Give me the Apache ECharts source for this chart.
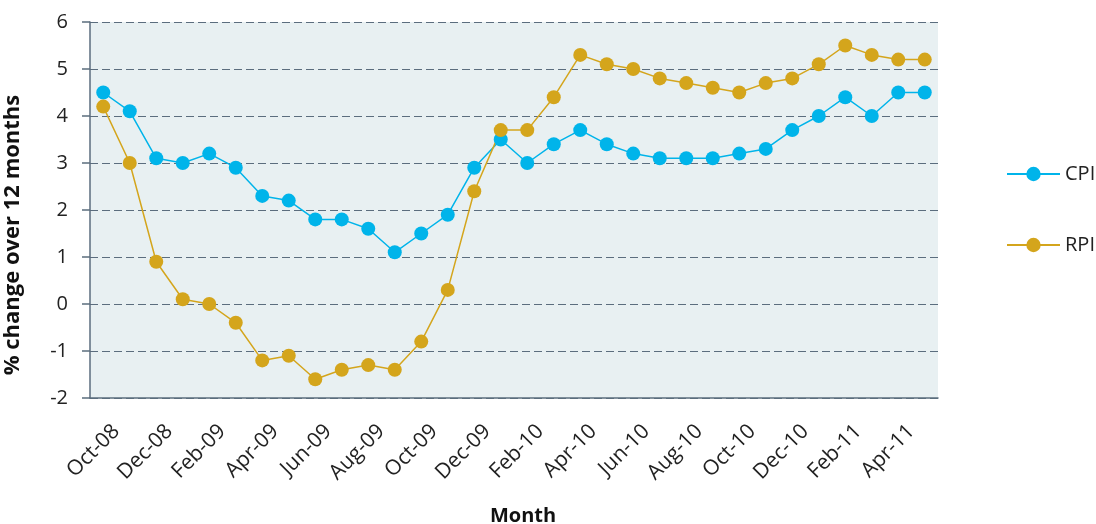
<!DOCTYPE html>
<html>
<head>
<meta charset="utf-8">
<script src="https://cdn.jsdelivr.net/npm/echarts@6/dist/echarts.min.js"></script>
<style>
  html, body { margin: 0; padding: 0; background: #fff; }
  #chart { width: 1096px; height: 524px; }
</style>
</head>
<body>
<div id="chart"></div>
<script>
// Monthly 12-month inflation rates, Oct 2008 to May 2011
const months = [
  'Oct-08', 'Nov-08', 'Dec-08', 'Jan-09', 'Feb-09', 'Mar-09', 'Apr-09', 'May-09',
  'Jun-09', 'Jul-09', 'Aug-09', 'Sep-09', 'Oct-09', 'Nov-09', 'Dec-09', 'Jan-10',
  'Feb-10', 'Mar-10', 'Apr-10', 'May-10', 'Jun-10', 'Jul-10', 'Aug-10', 'Sep-10',
  'Oct-10', 'Nov-10', 'Dec-10', 'Jan-11', 'Feb-11', 'Mar-11', 'Apr-11', 'May-11'
];
const cpi = [
  4.5, 4.1, 3.1, 3.0, 3.2, 2.9, 2.3, 2.2,
  1.8, 1.8, 1.6, 1.1, 1.5, 1.9, 2.9, 3.5,
  3.0, 3.4, 3.7, 3.4, 3.2, 3.1, 3.1, 3.1,
  3.2, 3.3, 3.7, 4.0, 4.4, 4.0, 4.5, 4.5
];
const rpi = [
  4.2, 3.0, 0.9, 0.1, 0.0, -0.4, -1.2, -1.1,
  -1.6, -1.4, -1.3, -1.4, -0.8, 0.3, 2.4, 3.7,
  3.7, 4.4, 5.3, 5.1, 5.0, 4.8, 4.7, 4.6,
  4.5, 4.7, 4.8, 5.1, 5.5, 5.3, 5.2, 5.2
];

const FONT = '"Open Sans", "Noto Sans", sans-serif';
const AXIS_COLOR = '#5b6d7e';
const CPI_COLOR = '#00b4ea';
const RPI_COLOR = '#d4a51c';

const chart = echarts.init(document.getElementById('chart'), null, { renderer: 'canvas' });
chart.setOption({
  animation: false,
  textStyle: { fontFamily: FONT },
  grid: {
    left: 90, right: 158, top: 22, bottom: 126,
    outerBoundsMode: 'none',
    containLabel: false,
    show: true, backgroundColor: '#e8f0f2', borderWidth: 0
  },
  legend: {
    orient: 'vertical',
    left: 1001, top: 159,
    itemWidth: 53, itemHeight: 18, itemGap: 51,
    textStyle: { fontFamily: FONT, fontSize: 20, color: '#222' },
    data: ['CPI', 'RPI']
  },
  xAxis: {
    type: 'category',
    data: months,
    boundaryGap: true,
    name: 'Month',
    nameLocation: 'middle',
    nameGap: 108,
    nameTextStyle: {
      fontFamily: FONT, fontSize: 20, fontWeight: 'bold', color: '#111',
      padding: [0, 0, 0, 18]
    },
    axisLine: { onZero: false, lineStyle: { color: AXIS_COLOR, width: 1.5 } },
    axisTick: { interval: 1, length: 7, lineStyle: { color: AXIS_COLOR, width: 1.5 } },
    axisLabel: {
      interval: 1, rotate: 45, fontSize: 21, color: '#222', margin: 17,
      align: 'right', verticalAlign: 'top', padding: [8, 0, 0, 0], fontFamily: FONT
    }
  },
  yAxis: {
    type: 'value',
    min: -2, max: 6, interval: 1,
    name: '% change over 12 months',
    nameLocation: 'middle',
    nameGap: 66,
    nameTextStyle: {
      fontFamily: FONT, fontSize: 22, fontWeight: 'bold', color: '#111',
      padding: [0, 50, 0, 0]
    },
    axisLine: { show: true, lineStyle: { color: AXIS_COLOR, width: 1.5 } },
    axisTick: { show: true, length: 8, lineStyle: { color: AXIS_COLOR, width: 1.5 } },
    axisLabel: { fontSize: 20, color: '#222', margin: 22, fontFamily: FONT },
    splitLine: { lineStyle: { color: AXIS_COLOR, type: [8, 4], width: 1.2 } }
  },
  series: [
    {
      name: 'CPI', type: 'line', data: cpi,
      symbol: 'circle', symbolSize: 14,
      lineStyle: { color: CPI_COLOR, width: 1.5 },
      itemStyle: { color: CPI_COLOR }
    },
    {
      name: 'RPI', type: 'line', data: rpi,
      symbol: 'circle', symbolSize: 14,
      lineStyle: { color: RPI_COLOR, width: 1.5 },
      itemStyle: { color: RPI_COLOR }
    }
  ]
});
</script>
</body>
</html>
